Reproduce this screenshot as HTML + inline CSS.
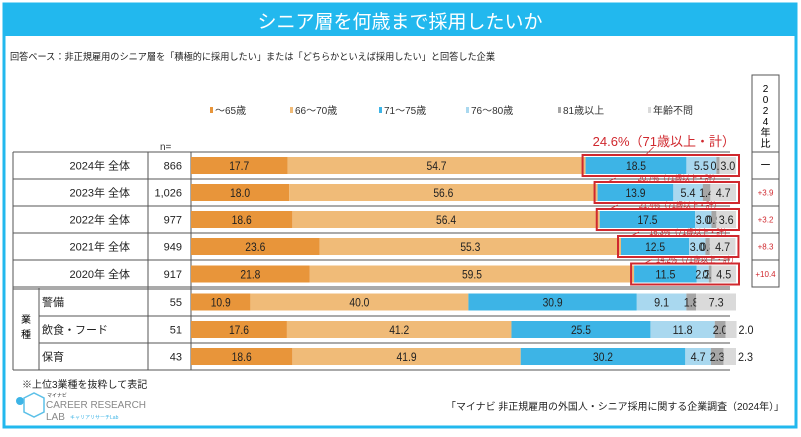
<!DOCTYPE html>
<html><head><meta charset="utf-8"><style>
body{margin:0;width:801px;height:432px;background:#fff;font-family:"Liberation Sans","Noto Sans CJK JP",sans-serif;overflow:hidden}
svg text{font-family:"Liberation Sans","Noto Sans CJK JP",sans-serif}
</style></head><body>
<svg id="c" width="801" height="432">
<rect x="4" y="4" width="792" height="423" fill="#fff" stroke="#22B8EE" stroke-width="3"/>
<rect x="4" y="4" width="792" height="32" fill="#22B8EE"/>
<text x="400" y="28" text-anchor="middle" fill="#fff" font-size="19">シニア層を何歳まで採用したいか</text>
<text x="10" y="60" font-size="9.5" fill="#222" textLength="485" lengthAdjust="spacingAndGlyphs">回答ベース：非正規雇用のシニア層を「積極的に採用したい」または「どちらかといえば採用したい」と回答した企業</text>
<rect x="752" y="75" width="27" height="212" fill="none" stroke="#555" stroke-width="1"/>
<line x1="752" y1="152" x2="779" y2="152" stroke="#555"/>
<text x="765.5" y="92" font-size="10" text-anchor="middle"><tspan x="765.5">2</tspan><tspan x="765.5" dy="11">0</tspan><tspan x="765.5" dy="11">2</tspan><tspan x="765.5" dy="11">4</tspan><tspan x="765.5" dy="11">年</tspan><tspan x="765.5" dy="11">比</tspan></text>
<text x="160" y="150" font-size="10" fill="#333">n=</text>
<g id="legend"></g>
<g id="table"></g>
<g id="bars"></g>
<g id="labels"></g>
<text x="22" y="388" font-size="10" fill="#222">※上位3業種を抜粋して表記</text>
<g>
<circle cx="20" cy="401" r="4" fill="#3DB4E6"/>
<path d="M24 398 L34 393 L44 398 L44 412 L34 417 L24 412 Z" fill="none" stroke="#5CC0E8" stroke-width="1.5"/>
<text x="47" y="397" font-size="5" fill="#333">マイナビ</text>
<text x="46" y="408" font-size="10" fill="#888">CAREER RESEARCH</text>
<text x="46" y="420" font-size="10" fill="#888">LAB</text>
<text x="70" y="419" font-size="5" fill="#3DB4E6">キャリアリサーチLab</text>
</g>
<text x="784" y="410" font-size="10" text-anchor="end" fill="#222" textLength="338" lengthAdjust="spacingAndGlyphs">「マイナビ 非正規雇用の外国人・シニア採用に関する企業調査（2024年）」</text>
</svg>
<script>
const categories=["2024年 全体","2023年 全体","2022年 全体","2021年 全体","2020年 全体","警備","飲食・フード","保育"];
const nValues=["866","1,026","977","949","917","55","51","43"];
const seriesNames=["～65歳","66～70歳","71～75歳","76～80歳","81歳以上","年齢不問"];
const s65=[17.7,18.0,18.6,23.6,21.8,10.9,17.6,18.6];
const s70=[54.7,56.6,56.4,55.3,59.5,40.0,41.2,41.9];
const s75=[18.5,13.9,17.5,12.5,11.5,30.9,25.5,30.2];
const s80=[5.5,5.4,3.0,3.0,2.2,9.1,11.8,4.7];
const s81=[0.6,1.4,0.9,0.8,0.5,1.8,2.0,2.3];
const sAny=[3.0,4.7,3.6,4.7,4.5,7.3,2.0,2.3];
const totals71=["24.6%（71歳以上・計）","20.7%（71歳以上・計）","21.4%（71歳以上・計）","16.3%（71歳以上・計）","14.2%（71歳以上・計）"];
const diffs=["ー","+3.9","+3.2","+8.3","+10.4"];
const colors=["#E8953A","#F0BB78","#3DB4E6","#A9D8EF","#A6A6A6","#DADADA"];
const NS="http://www.w3.org/2000/svg";
const x0=191, pxPer=5.45;
const xs=v=>x0+v*pxPer;
const rowTops=[152,179,206,233,260,288,316,343];
const rowH=[27,27,27,27,28,28,27,27];
function el(t,a,p){const e=document.createElementNS(NS,t);for(const k in a)e.setAttribute(k,a[k]);p.appendChild(e);return e;}
const lg=document.getElementById('legend');
const lx=[210,290,379,466,558,648];
seriesNames.forEach((n,i)=>{
 const r=el('rect',{x:lx[i],y:107,width:3,height:6,fill:colors[i]},lg);
 
 
 const t=el('text',{x:lx[i]+5,y:114,'font-size':10,fill:'#333'},lg);t.textContent=n;
 
 
});
const tb=document.getElementById('table');
const line=(x1,y1,x2,y2,w)=>el('line',{x1,y1,x2,y2,stroke:'#555','stroke-width':w||1},tb);
line(13,152,730,152);
line(13,152,13,370);line(148,152,148,370);line(191,152,191,370);
line(39,288,39,370);
for(let i=1;i<8;i++){const y=rowTops[i]; if(i===5){line(13,y-1,730,y-1);line(13,y+1,730,y+1);} else if(i<5) line(13,y,730,y); else line(39,y,730,y);}
line(13,370,730,370);
const g1=el('text',{x:26,y:323,'font-size':10,'text-anchor':'middle'},tb);g1.textContent='業';


const g2=el('text',{x:26,y:338,'font-size':10,'text-anchor':'middle'},tb);g2.textContent='種';
const bg=document.getElementById('bars');
const lb=document.getElementById('labels');
const series=[s65,s70,s75,s80,s81,sAny];
categories.forEach((c,i)=>{
 const cy=rowTops[i]+rowH[i]/2;
 const lab=el('text',{x:i<5?130:42,y:cy+4,'font-size':11,'text-anchor':i<5?'end':'start',fill:'#222'},tb);lab.textContent=c;
 
 
 const nt=el('text',{x:182,y:cy+4,'font-size':11,'text-anchor':'end',fill:'#222'},tb);nt.textContent=nValues[i];
 
 
 let acc=0;const bh=17,by=cy-bh/2;
 series.forEach((s,j)=>{
  const v=s[i];const x=xs(acc);const w=v*pxPer;
  const r=el('rect',{x,y:by,width:w,height:bh,fill:colors[j]},bg);
  
  
  let tx=x+w/2, anchor='middle';
  if(j===5 && v<=2.5 && i>=6){tx=x+w+2;anchor='start';}
  const t=el('text',{x:tx,y:cy+4.5,'font-size':12,'text-anchor':anchor,fill:'#222',textLength:v>=10?20:15,lengthAdjust:'spacingAndGlyphs'},bg);t.textContent=v.toFixed(1);
  
  
  acc+=v;
 });
 if(i<5){
  const bx=xs(s65[i]+s70[i]);const bw=xs(acc)-bx;
  const box=el('rect',{x:bx-3,y:by-2,width:bw+6,height:bh+4,fill:'none',stroke:'#D0282E','stroke-width':2},bg);
  
  
  const lt=el('text',{x:i===0?735:bx+bw/2+12,y:i===0?146:by-3,'font-size':i===0?13:8,'text-anchor':i===0?'end':'middle',fill:'#D0282E'},lb);lt.textContent=totals71[i];
  if(i>0){lt.setAttribute('textLength','82');lt.setAttribute('lengthAdjust','spacingAndGlyphs');}
  
  
  el('line',{x1:bx+(i===0?60:10),y1:by-2,x2:bx+(i===0?68:18),y2:by-(i===0?10:6),stroke:'#D0282E','stroke-width':0.8},lb);
  const d=el('text',{x:765.5,y:cy+3,'font-size':i===0?11:8,'text-anchor':'middle',fill:i===0?'#222':'#D0282E'},bg);d.textContent=diffs[i];
  
  
 }
});
line(752,179,779,179);line(752,206,779,206);line(752,233,779,233);line(752,260,779,260);
</script>
</body></html>
